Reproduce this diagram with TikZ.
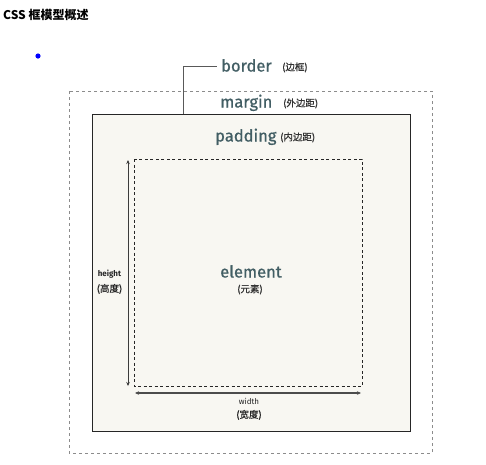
\documentclass[tikz,border=0pt]{standalone}
\usepackage{fontspec}
\setmainfont{Fira Sans}
\newfontfamily\labfont[FakeBold=0.8]{Fira Sans}
\newfontfamily\cjk{Noto Sans CJK SC}
\newfontfamily\cjkb[FakeBold=0.6]{Noto Sans CJK SC}
\usetikzlibrary{arrows.meta}
\definecolor{labelcol}{RGB}{66,94,100}
\definecolor{boxfill}{RGB}{248,247,242}
\definecolor{linecol}{RGB}{60,60,60}
\tikzset{
  biglabel/.style={text=labelcol, font=\labfont\fontsize{16.5}{18}\selectfont, inner sep=0pt, anchor=base west},
  cjklabel/.style={text=black!80, font=\cjkb\fontsize{9.5}{10}\selectfont, inner sep=0pt, anchor=base west},
  smalllabel/.style={text=black!85, font=\bfseries\fontsize{8}{9}\selectfont, inner sep=0pt},
  dashbox/.style={draw=black!55, dashed, dash pattern=on 3pt off 2.5pt, line width=0.6pt},
  dimarrow/.style={draw=linecol, line width=0.9pt, {Stealth[length=4pt,width=3.5pt]}-{Stealth[length=4pt,width=3.5pt]}},
}
\begin{document}
\begin{tikzpicture}[x=1pt,y=-1pt]
\useasboundingbox (0,0) rectangle (486,464);
\fill[white] (0,0) rectangle (486,464);
% title
\node[anchor=base west, inner sep=0pt, font=\cjk\bfseries\fontsize{12}{14}\selectfont] (title) at (3,19) {CSS 框模型概述};
% blue dot
\fill[blue] (38,56) circle (2.6pt);
% margin box
\draw[dashbox, dash pattern=on 3pt off 3pt, draw=black!45] (69,91) rectangle (432,453);
% border box
\draw[draw=black!85, fill=boxfill, line width=0.9pt] (92,114) rectangle (410,431);
\coordinate (btop) at (183,114);
% content box
\draw[dashbox, draw=black!85, line width=0.8pt] (134,159) rectangle (362,386);
% border leader
\coordinate (lbend) at (183,66);
\coordinate (lend) at (217,66);
\draw[draw=black!65, line width=0.8pt] (btop) -- (lbend) -- (lend);
% labels
\node[biglabel] (border) at (221,71.5) {border};
\node[cjklabel] (borderc) at (282,70.5) {(边框)};
\node[biglabel] (margin) at (220,107.5) {margin};
\node[cjklabel] (marginc) at (283,106.5) {(外边距)};
\node[biglabel] (padding) at (215,141.5) {padding};
\node[cjklabel] (paddingc) at (280,140.5) {(内边距)};
\node[biglabel, anchor=base] (element) at (251,277.5) {element};
\node[cjklabel, anchor=base] (elementc) at (250,292.5) {(元素)};
% dimension arrows
\coordinate (ht) at (128,160);
\coordinate (hb) at (128,386);
\draw[dimarrow, line width=0.8pt] (ht) -- (hb);
\coordinate (wl) at (135,393);
\coordinate (wr) at (361,393);
\draw[dimarrow, line width=1.1pt, draw=black!70] (wl) -- (wr);
\node[smalllabel, anchor=base] (height) at (109.5,276) {height};
\node[cjklabel, anchor=base, text=black!85] (heightc) at (109.5,292) {(高度)};
\node[smalllabel, anchor=base, font=\fontsize{8}{9}\selectfont] (width) at (249,404) {width};
\node[cjklabel, anchor=base, text=black!85] (widthc) at (249,418) {(宽度)};
\end{tikzpicture}
\end{document}
